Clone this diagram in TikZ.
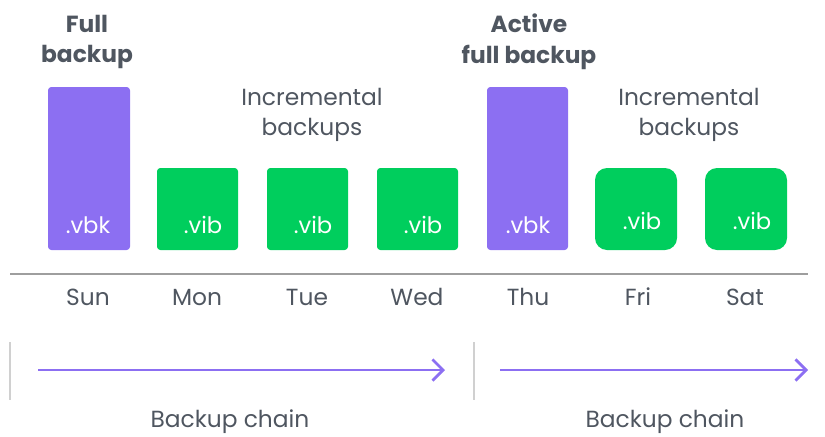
\documentclass[tikz,border=0pt]{standalone}
\usepackage{fontspec}
\setmainfont{Poppins}
\usetikzlibrary{arrows.meta}
\definecolor{vpurple}{HTML}{8C6FF2}
\definecolor{vgreen}{HTML}{00CE5D}
\definecolor{vtext}{HTML}{4F5660}
\definecolor{vline}{HTML}{9E9E9E}
\definecolor{vbar}{HTML}{D0D0D0}
\tikzset{
  fullbox/.style={fill=vpurple, draw=none, rounded corners=2.5pt},
  incbox/.style={fill=vgreen, draw=none, rounded corners=2.5pt},
  incboxr/.style={fill=vgreen, draw=none, rounded corners=9pt},
  ext/.style={text=white, font=\fontsize{17}{18}\selectfont, inner sep=0pt, anchor=base},
  lbl/.style={text=vtext, font=\fontsize{17.5}{23}\selectfont, align=center, inner sep=0pt},
  blbl/.style={text=vtext, font=\bfseries\fontsize{17.5}{23}\selectfont, align=center, inner sep=0pt},
  day/.style={text=vtext, font=\fontsize{17.5}{20}\selectfont, inner sep=0pt, anchor=base},
  chain/.style={draw=vpurple, line width=2pt, -{Straight Barb[length=8pt,width=16pt,line width=2pt]}},
  sep/.style={draw=vbar, line width=1.6pt},
}
\begin{document}
\begin{tikzpicture}[x=0.75pt,y=-0.75pt]
\useasboundingbox (0,0) rectangle (825,436);
% boxes
\path[fullbox] (48,87) rectangle (130,250);
\path[incbox] (157,168) rectangle (238,250);
\path[incbox] (267,168) rectangle (348,250);
\path[incbox] (377,168) rectangle (458,250);
\path[fullbox] (487,87) rectangle (568,250);
\path[incboxr] (595,168) rectangle (677,250);
\path[incboxr] (705,168) rectangle (787,250);
% extensions
\node[ext] (e1) at (88,233) {.vbk};
\node[ext] (e2) at (203,233) {.vib};
\node[ext] (e3) at (313,233) {.vib};
\node[ext] (e4) at (423,233) {.vib};
\node[ext] (e5) at (528,233) {.vbk};
\node[ext] (e6) at (642,229) {.vib};
\node[ext] (e7) at (752,229) {.vib};
% headings
\node[blbl] (h1) at (87,42) {Full\\backup};
\node[blbl] (h2) at (529,42) {Active\\full backup};
\node[lbl] (h3) at (312,115) {Incremental\\backups};
\node[lbl] (h4) at (689,115) {Incremental\\backups};
% timeline
\coordinate (tl0) at (10,274);
\coordinate (tl1) at (808,274);
\draw[draw=vline, line width=2.2pt] (tl0) -- (tl1);
\node[day] (d1) at (88,305) {Sun};
\node[day] (d2) at (197,305) {Mon};
\node[day] (d3) at (307,305) {Tue};
\node[day] (d4) at (417,305) {Wed};
\node[day] (d5) at (528,305) {Thu};
\node[day] (d6) at (638,305) {Fri};
\node[day] (d7) at (745,305) {Sat};
% separators
\coordinate (s1a) at (10,342); \coordinate (s1b) at (10,400);
\coordinate (s2a) at (474,342); \coordinate (s2b) at (474,400);
\draw[sep] (s1a) -- (s1b);
\draw[sep] (s2a) -- (s2b);
% chains
\coordinate (c1a) at (38,370); \coordinate (c1b) at (445,370);
\coordinate (c2a) at (500,370); \coordinate (c2b) at (808,370);
\draw[chain] (c1a) -- (c1b);
\draw[chain] (c2a) -- (c2b);
\node[lbl] (b1) at (230,422) {Backup chain};
\node[lbl] (b2) at (665,422) {Backup chain};
\end{tikzpicture}
\end{document}
